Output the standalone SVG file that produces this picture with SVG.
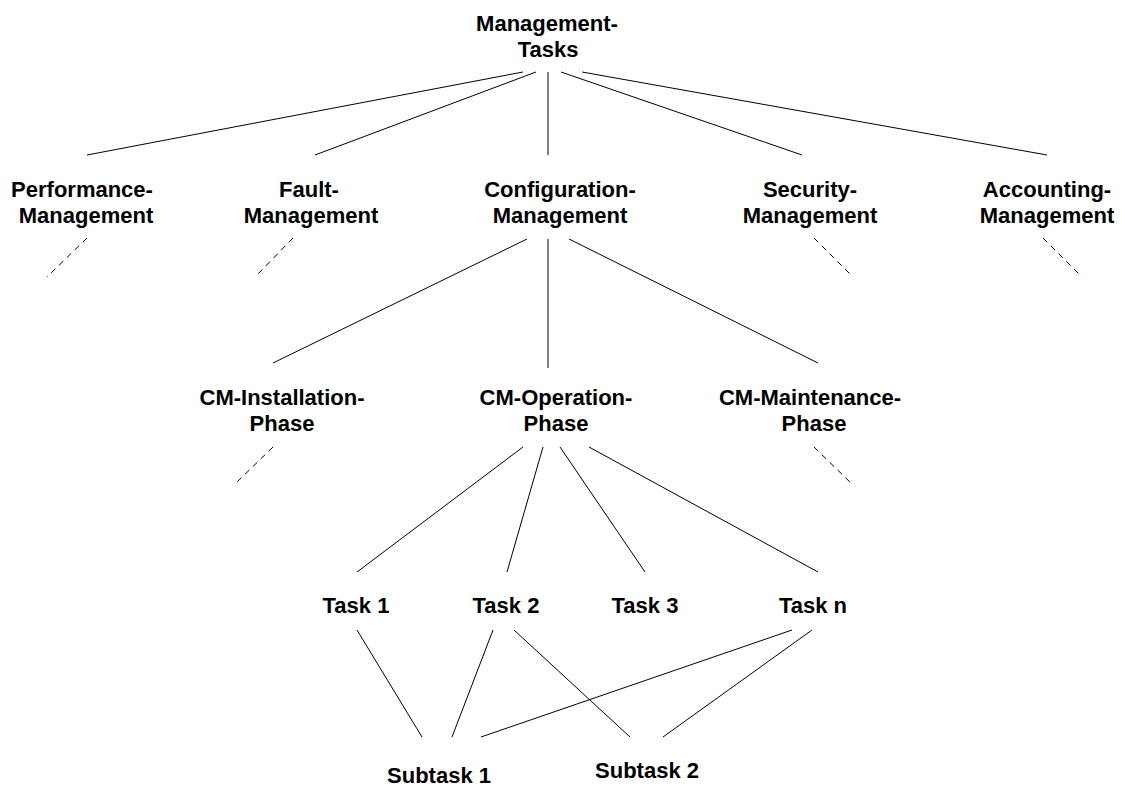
<svg xmlns="http://www.w3.org/2000/svg" width="1122" height="787" viewBox="0 0 1122 787">
<style>
text{font-family:"Liberation Sans",Arial,sans-serif;font-weight:bold;font-size:22px;fill:#000;text-anchor:middle}
.c line{stroke:#000;stroke-width:1;fill:none}
.c line.d{stroke-dasharray:6 5}
</style>
<rect width="1122" height="787" fill="#fff"/>
<g id="connectors" class="c">
<line x1="523" y1="72" x2="87" y2="155"/>
<line x1="536" y1="72" x2="315" y2="155"/>
<line x1="548" y1="72" x2="548" y2="155"/>
<line x1="561" y1="72" x2="802" y2="155"/>
<line x1="582" y1="72" x2="1047" y2="155"/>
<line class="d" x1="87" y1="238" x2="47" y2="277"/>
<line class="d" x1="293" y1="238" x2="255" y2="277"/>
<line class="d" x1="814" y1="238" x2="853" y2="277"/>
<line class="d" x1="1043" y1="238" x2="1082" y2="277"/>
<line x1="527" y1="239" x2="273" y2="363"/>
<line x1="548" y1="239" x2="548" y2="368"/>
<line x1="569" y1="239" x2="818" y2="363"/>
<line class="d" x1="273" y1="447" x2="234" y2="485"/>
<line class="d" x1="814" y1="447" x2="853" y2="485"/>
<line x1="523" y1="447" x2="357" y2="572"/>
<line x1="543" y1="447" x2="507" y2="572"/>
<line x1="560" y1="447" x2="645" y2="572"/>
<line x1="589" y1="447" x2="818" y2="572"/>
<line x1="357" y1="630" x2="422" y2="737"/>
<line x1="493" y1="630" x2="452" y2="737"/>
<line x1="514" y1="630" x2="630" y2="737"/>
<line x1="792" y1="630" x2="481" y2="737"/>
<line x1="812" y1="630" x2="663" y2="737"/>
</g>
<g id="management-tasks"><text x="547" y="31">Management-</text><text x="548" y="57">Tasks</text></g>
<g id="performance-management"><text x="82" y="197">Performance-</text><text x="86" y="223">Management</text></g>
<g id="fault-management"><text x="309" y="197">Fault-</text><text x="311" y="223">Management</text></g>
<g id="configuration-management"><text x="560" y="197">Configuration-</text><text x="560" y="223">Management</text></g>
<g id="security-management"><text x="810" y="197">Security-</text><text x="810" y="223">Management</text></g>
<g id="accounting-management"><text x="1047" y="197">Accounting-</text><text x="1047" y="223">Management</text></g>
<g id="cm-installation-phase"><text x="282" y="405">CM-Installation-</text><text x="282" y="431">Phase</text></g>
<g id="cm-operation-phase"><text x="556" y="405">CM-Operation-</text><text x="556" y="431">Phase</text></g>
<g id="cm-maintenance-phase"><text x="810" y="405">CM-Maintenance-</text><text x="814" y="431">Phase</text></g>
<g id="task-1"><text x="356" y="613">Task 1</text></g>
<g id="task-2"><text x="506" y="613">Task 2</text></g>
<g id="task-3"><text x="645" y="613">Task 3</text></g>
<g id="task-n"><text x="813" y="613">Task n</text></g>
<g id="subtask-1"><text x="439" y="783">Subtask 1</text></g>
<g id="subtask-2"><text x="647" y="778">Subtask 2</text></g>
</svg>
